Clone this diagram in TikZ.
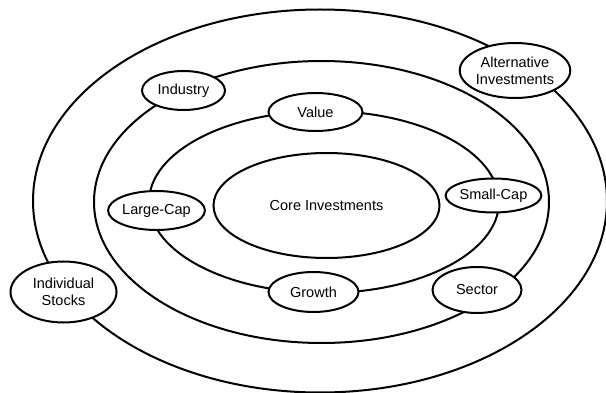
\documentclass[tikz,border=0pt]{standalone}
\usepackage{fontspec}
\setmainfont{Liberation Sans}
\usetikzlibrary{shapes.geometric}
\begin{document}
\begin{tikzpicture}[x=1pt,y=-1pt,
  ring/.style={draw, ellipse, line width=2pt, inner sep=0pt, align=center,
    font=\fontsize{14.5}{17}\selectfont},
  tag/.style={draw, ellipse, line width=2pt, fill=white, inner sep=0pt,
    align=center, font=\fontsize{14.5}{17}\selectfont}]
\useasboundingbox (0,0) rectangle (606,393);

% concentric rings
\node[ring, minimum width=574pt, minimum height=383pt] (outer) at (320,201) {};
\node[ring, minimum width=455pt, minimum height=282pt] (middle) at (321.5,202) {};
\node[ring, minimum width=350pt, minimum height=182pt] (inner) at (324,202) {};
\node[ring, minimum width=226pt, minimum height=105pt] (core) at (326.5,205.5) {Core Investments};

% labels sitting on the rings
\node[tag, minimum width=110pt, minimum height=55pt] (alt) at (515,70.5) {Alternative\\Investments};
\node[tag, minimum width=106pt, minimum height=61pt] (stocks) at (63.5,292) {Individual\\Stocks};
\node[tag, minimum width=83pt, minimum height=39pt] (industry) at (183.5,90.5) {Industry};
\node[tag, minimum width=89pt, minimum height=46pt] (sector) at (477,290) {Sector};
\node[tag, minimum width=94pt, minimum height=38pt] (value) at (315.5,112) {Value};
\node[tag, minimum width=90pt, minimum height=40pt] (growth) at (313.5,292) {Growth};
\node[tag, minimum width=94pt, minimum height=39pt] (large) at (156.5,210.5) {Large-Cap};
\node[tag, minimum width=88pt, minimum height=34pt] (small) at (493.5,195.5) {Small-Cap};
\end{tikzpicture}
\end{document}
